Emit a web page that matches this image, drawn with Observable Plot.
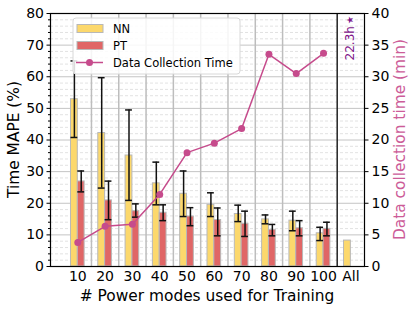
<!DOCTYPE html>
<html>
<head>
<meta charset="utf-8">
<script src="https://cdn.jsdelivr.net/npm/d3@7"></script>
<script src="https://cdn.jsdelivr.net/npm/@observablehq/plot@0.6"></script>
<style>
  html, body { margin: 0; padding: 0; background: #fff; }
  #chart { width: 415px; height: 312px; }
</style>
</head>
<body>
<div id="chart"></div>
<script>
// ---- data ----
const categories = ["10", "20", "30", "40", "50", "60", "70", "80", "90", "100", "All"];
const nnMape = [52.9, 42.2, 35.1, 26.3, 23.0, 19.5, 16.6, 14.9, 14.5, 10.5, 8.2];
const nnLow  = [40.8, 24.8, 20.9, 19.5, 15.8, 15.8, 14.2, 13.5, 11.3, 8.2, null];
const nnHigh = [65.0, 59.7, 49.5, 33.0, 30.2, 23.3, 19.4, 16.3, 17.5, 12.4, null];
const ptMape = [26.9, 20.9, 17.5, 17.0, 15.8, 14.7, 13.5, 11.6, 12.1, 11.9];
const ptLow  = [23.6, 14.8, 15.6, 14.5, 12.9, 9.7, 9.5, 9.7, 9.7, 9.7];
const ptHigh = [30.2, 27.0, 19.8, 19.5, 18.6, 18.5, 17.5, 13.3, 14.5, 14.0];
const collectMinutes = [3.8, 6.35, 6.67, 11.4, 18.0, 19.5, 21.8, 33.55, 30.5, 33.7];
const allCollectLabel = "22.3h";
const allCollectMarker = "\u2605";
const seriesNames = ["NN", "PT", "Data Collection Time"];
const leftTicks = [0, 10, 20, 30, 40, 50, 60, 70, 80];
const rightTicks = [0, 5, 10, 15, 20, 25, 30, 35, 40];
const titles = {x: "# Power modes used for Training", yLeft: "Time MAPE (%)", yRight: "Data collection time (min)"};

// ---- styling ----
const FONT = "DejaVu Sans, sans-serif";
const NN_COLOR = "#fcd86c";
const PT_COLOR = "#e06666";
const LINE_COLOR = "#c64b8c";
const RIGHT_LABEL_COLOR = "#cc5c98";
const STAR_COLOR = "#80168a";
const EDGE = "#b8b8b8";
const BW = 0.25; // bar width in slot units
const RATIO = 2;  // left (%) units per right (min) unit: 80 <-> 40

// ---- build tables ----
const nn = categories.map((c, i) => ({pos: i + 1, v: nnMape[i], lo: nnLow[i], hi: nnHigh[i]}));
const pt = ptMape.map((v, i) => ({pos: i + 1, v, lo: ptLow[i], hi: ptHigh[i]}));
const nnErr = nn.filter(d => d.lo != null);
const line = collectMinutes.map((m, i) => ({pos: i + 1, y: m * RATIO}));
const slots = categories.map((c, i) => i + 1);
const sepGrid = slots.slice(0, categories.length - 2).map(p => p + 0.5);
const lastSep = [categories.length - 0.5];
const minorTicks = d3.range(0, 81, 2).filter(v => v % 10 !== 0);

const plot = Plot.plot({
  width: 415,
  height: 312,
  marginLeft: 50,
  marginRight: 51,
  marginTop: 13,
  marginBottom: 46,
  style: {fontFamily: FONT, fontSize: "14px", color: "#000", background: "#fff"},
  x: {type: "linear", domain: [0, categories.length + 0.5]},
  y: {domain: [0, 80]},
  marks: [
    // minor horizontal grid
    Plot.ruleY(minorTicks, {stroke: "#d6d6d6", strokeWidth: 0.7, strokeDasharray: "3,2"}),
    // major horizontal grid
    Plot.ruleY(leftTicks, {stroke: "#c4c4c4", strokeWidth: 1}),
    // vertical separators
    Plot.ruleX(sepGrid, {stroke: "#bdbdbd", strokeWidth: 1.5}),
    Plot.ruleX(lastSep, {stroke: "#222", strokeWidth: 1.5}),
    // bars
    Plot.rectY(nn, {x1: d => d.pos - BW, x2: d => d.pos, y: "v", fill: NN_COLOR, stroke: EDGE, strokeWidth: 1, inset: 0}),
    Plot.rectY(pt, {x1: d => d.pos, x2: d => d.pos + BW, y: "v", fill: PT_COLOR, stroke: EDGE, strokeWidth: 1, inset: 0}),
    // error bars
    Plot.ruleX(nnErr, {x: d => d.pos - BW / 2, y1: "lo", y2: "hi", stroke: "#111", strokeWidth: 1.5}),
    Plot.ruleY(nnErr, {y: "lo", x1: d => d.pos - BW, x2: d => d.pos, stroke: "#111", strokeWidth: 1.5}),
    Plot.ruleY(nnErr, {y: "hi", x1: d => d.pos - BW, x2: d => d.pos, stroke: "#111", strokeWidth: 1.5}),
    Plot.ruleX(pt, {x: d => d.pos + BW / 2, y1: "lo", y2: "hi", stroke: "#111", strokeWidth: 1.5}),
    Plot.ruleY(pt, {y: "lo", x1: d => d.pos, x2: d => d.pos + BW, stroke: "#111", strokeWidth: 1.5}),
    Plot.ruleY(pt, {y: "hi", x1: d => d.pos, x2: d => d.pos + BW, stroke: "#111", strokeWidth: 1.5}),
    // data collection time line
    Plot.line(line, {x: "pos", y: "y", stroke: LINE_COLOR, strokeWidth: 1.5}),
    Plot.dot(line, {x: "pos", y: "y", fill: LINE_COLOR, r: 3.5}),
    // axes
    Plot.axisX({ticks: slots, tickSize: 0, tickPadding: 5, tickFormat: p => categories[p - 1], label: null, fontSize: 14}),
    Plot.axisY({ticks: leftTicks, tickSize: 3.5, tickPadding: 3, label: null, fontSize: 14}),
    Plot.axisY({ticks: minorTicks, tickSize: 2, tickFormat: () => "", label: null}),
    Plot.axisY({anchor: "right", ticks: rightTicks.map(v => v * RATIO), tickSize: 3.5, tickPadding: 3.5, tickFormat: v => v / RATIO, label: null, fontSize: 14}),
    // frame
    Plot.frame({stroke: "#000", strokeWidth: 1.2})
  ]
});

const svg = d3.select(plot);
const xs = plot.scale("x"), ys = plot.scale("y");
const [fx0, fx1] = xs.range, [fy0, fy1] = ys.range; // fy0 bottom, fy1 top
const addText = (x, y, rot, str, size, color, anchor = "middle") =>
  svg.append("text").attr("transform", `translate(${x},${y}) rotate(${rot})`)
    .attr("text-anchor", anchor).attr("dominant-baseline", "central")
    .style("font-family", FONT).style("font-size", size + "px").attr("fill", color).text(str);

// axis titles
addText(14, (fy0 + fy1) / 2, -90, titles.yLeft, 15.4, "#000");
addText(400, (fy0 + fy1) / 2, -90, titles.yRight, 15.4, RIGHT_LABEL_COLOR);
addText((fx0 + fx1) / 2, 296, 0, titles.x, 15.4, "#000");

// annotation on the "All" slot (x from the scale): label then a small star marker
const ann = addText(xs.apply(categories.length), fy1 + 3, -90, allCollectLabel, 12, STAR_COLOR, "end");
ann.text(null);
ann.append("tspan").text(allCollectLabel);
ann.append("tspan").attr("dx", 2).style("font-size", "9px").text(allCollectMarker);

// ---- legend (upper left of the plot area) ----
const lg = svg.append("g").attr("transform", `translate(${fx0 + 23},${fy1 + 5})`)
  .style("font-family", FONT).style("font-size", "11.5px");
lg.append("rect").attr("width", 167).attr("height", 56).attr("rx", 3)
  .attr("fill", "#fff").attr("fill-opacity", 0.85).attr("stroke", "#d8d8d8");
const rows = [
  {name: seriesNames[0], kind: "patch", color: NN_COLOR},
  {name: seriesNames[1], kind: "patch", color: PT_COLOR},
  {name: seriesNames[2], kind: "line", color: LINE_COLOR}
];
rows.forEach((r, i) => {
  const cy = 10.5 + i * 17;
  if (r.kind === "patch") {
    lg.append("rect").attr("x", 4).attr("y", cy - 4).attr("width", 26).attr("height", 8)
      .attr("fill", r.color).attr("stroke", EDGE);
  } else {
    lg.append("line").attr("x1", 3).attr("x2", 30).attr("y1", cy).attr("y2", cy)
      .attr("stroke", r.color).attr("stroke-width", 1.5);
    lg.append("circle").attr("cx", 16.5).attr("cy", cy).attr("r", 3.5).attr("fill", r.color);
  }
  lg.append("text").attr("x", 40).attr("y", cy).attr("dominant-baseline", "central")
    .attr("text-anchor", "start").attr("fill", "#000").text(r.name);
});

document.getElementById("chart").appendChild(plot);
</script>
</body>
</html>
